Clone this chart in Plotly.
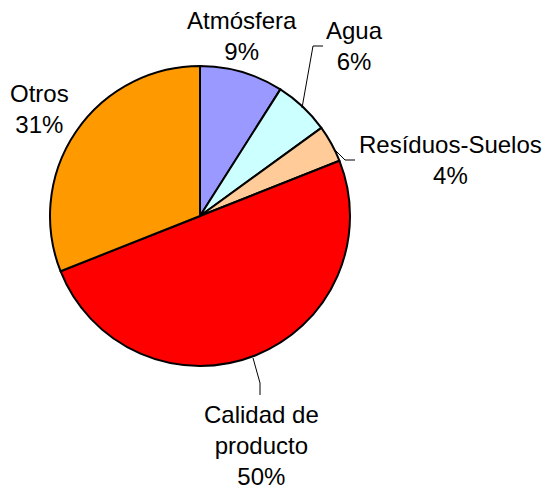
import plotly.graph_objects as go

W, H = 543, 489

categories = ["Atmósfera", "Agua", "Resíduos-Suelos", "Calidad de producto", "Otros"]
values = [9, 6, 4, 50, 31]
label_texts = ["Atmósfera<br>9%", "Agua<br>6%", "Resíduos-Suelos<br>4%",
               "Calidad de<br>producto<br>50%", "Otros<br>31%"]
colors = ["#9999FF", "#CCFFFF", "#FFCC99", "#FF0000", "#FF9900"]

# label centres in pixels (layout)
label_pos = [(242, 36), (354, 46), (450, 160), (261, 445), (39, 109)]
# leader lines in pixels (layout)
leaders = [None,
           [(302, 108), (313, 46), (323, 46)],
           [(335, 150), (345, 160), (355, 160)],
           [(253, 358), (260, 383), (260, 395)],
           None]

def px(x):
    return x / W

def py(y):
    return 1 - y / H

fig = go.Figure(go.Pie(
    labels=categories,
    values=values,
    sort=False,
    direction="clockwise",
    rotation=0,
    marker=dict(colors=colors, line=dict(color="black", width=2)),
    textinfo="none",
    hoverinfo="label+percent",
    showlegend=False,
    domain=dict(x=[px(50), px(350)], y=[py(366), py(66)]),
))

for t, (x, y) in zip(label_texts, label_pos):
    fig.add_annotation(x=px(x), y=py(y), xref="paper", yref="paper", text=t,
                       showarrow=False, xanchor="center", yanchor="middle",
                       font=dict(family="Liberation Sans, Arial", size=24, color="black"))

for seg in leaders:
    if seg is None:
        continue
    path = "M " + " L ".join(f"{px(a)},{py(b)}" for a, b in seg)
    fig.add_shape(type="path", path=path, xref="paper", yref="paper",
                  line=dict(color="black", width=1))

fig.update_layout(width=W, height=H, margin=dict(l=0, r=0, t=0, b=0),
                  paper_bgcolor="white", plot_bgcolor="white")

fig.write_html("out.html", config={"displayModeBar": False},
               post_script="document.body.style.margin='0';document.body.style.overflow='hidden';")
